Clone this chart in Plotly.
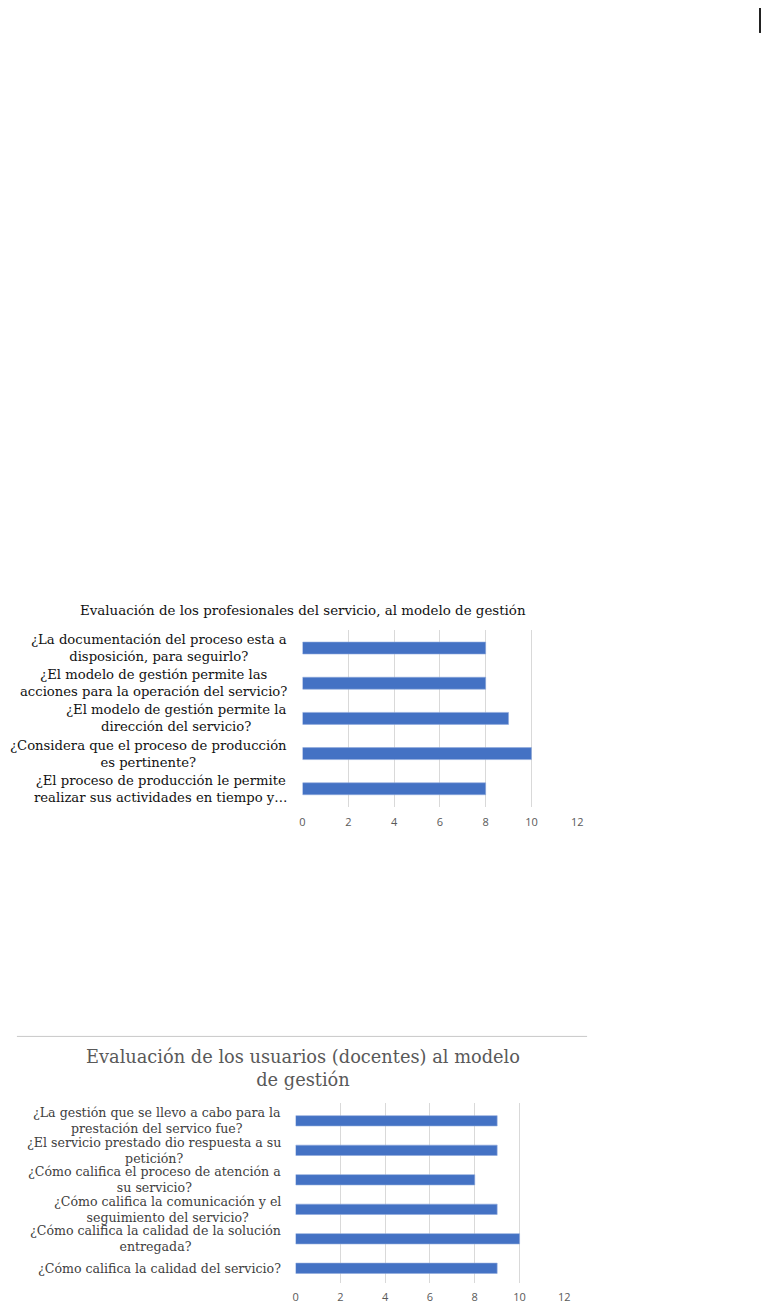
import plotly.graph_objects as go

# page body has an 8px default margin; figure is sized to fill the window exactly
OFF = 8
FW, FH = 775 - 2 * OFF, 1312 - 2 * OFF

# ---------------- data ----------------
top_title = "Evaluación de los profesionales del servicio, al modelo de gestión"
top_questions = [
    "¿La documentación del proceso esta a<br>disposición, para seguirlo?",
    "¿El modelo de gestión permite las<br>acciones para la operación del servicio?",
    "¿El modelo de gestión permite la<br>dirección del servicio?",
    "¿Considera que el proceso de producción<br>es pertinente?",
    "¿El proceso de producción le permite<br>realizar sus actividades en tiempo y…",
]
top_values = [8, 8, 9, 10, 8]

bottom_title = "Evaluación de los usuarios (docentes) al modelo<br>de gestión"
bottom_questions = [
    "¿La gestión que se llevo a cabo para la<br>prestación del servico fue?",
    "¿El servicio prestado dio respuesta a su<br>petición?",
    "¿Cómo califica el proceso de atención a<br>su servicio?",
    "¿Cómo califica la comunicación y el<br>seguimiento del servicio?",
    "¿Cómo califica la calidad de la solución<br>entregada?",
    "¿Cómo califica la calidad del servicio?",
]
bottom_values = [9, 9, 8, 9, 10, 9]

x_ticks = [0, 2, 4, 6, 8, 10, 12]

# ---------------- helpers (window pixel -> paper) ----------------
def px_x(p):
    return min(1.0, (p - OFF) / FW)

def px_y(p):
    return min(1.0, 1 - (p - OFF) / FH)

BAR_COLOR = "#4472C4"
GRID_COLOR = "#d9d9d9"
TICK_FONT = dict(family="Open Sans", size=11, color="#595959")

fig = go.Figure()

fig.add_trace(go.Bar(
    x=top_values, y=top_questions, orientation="h",
    xaxis="x", yaxis="y", width=0.34,
    marker=dict(color=BAR_COLOR, line=dict(color="#8faadc", width=0.6)),
    hoverinfo="x+y",
))
fig.add_trace(go.Bar(
    x=bottom_values, y=bottom_questions, orientation="h",
    xaxis="x2", yaxis="y2", width=0.35,
    marker=dict(color=BAR_COLOR, line=dict(color="#8faadc", width=0.6)),
    hoverinfo="x+y",
))

axis_common = dict(range=[0, 12], tickvals=x_ticks, showgrid=True, gridcolor=GRID_COLOR,
                   gridwidth=1, zeroline=False, showline=False, ticks="",
                   tickfont=TICK_FONT, fixedrange=True)

annotations = []
for q in top_questions:
    annotations.append(dict(
        text=q, x=px_x(289), xref="paper", y=q, yref="y",
        xanchor="right", yanchor="middle", align="center", showarrow=False,
        font=dict(family="DejaVu Serif", size=13.2, color="#111111"),
    ))
for q in bottom_questions:
    annotations.append(dict(
        text=q, x=px_x(283), xref="paper", y=q, yref="y2",
        xanchor="right", yanchor="middle", align="center", showarrow=False,
        font=dict(family="DejaVu Serif", size=12.6, color="#404040"),
    ))
annotations.append(dict(
    text=top_title, x=px_x(303), y=px_y(611), xref="paper", yref="paper",
    xanchor="center", yanchor="middle", showarrow=False,
    font=dict(family="DejaVu Serif", size=13.4, color="#111111"),
))
annotations.append(dict(
    text=bottom_title, x=px_x(303), y=px_y(1070), xref="paper", yref="paper",
    xanchor="center", yanchor="middle", showarrow=False,
    font=dict(family="DejaVu Serif", size=17.8, color="#595959"),
))

shapes = [
    dict(type="line", xref="paper", yref="paper",
         x0=px_x(14), x1=px_x(591), y0=px_y(1038), y1=px_y(1038),
         line=dict(color="#c8c8c8", width=1)),
    dict(type="line", xref="paper", yref="paper",
         x0=1 - 1.0 / FW, x1=1 - 1.0 / FW, y0=px_y(8), y1=px_y(33),
         line=dict(color="#222222", width=2)),
]

fig.update_layout(
    width=FW, height=FH,
    margin=dict(l=0, r=0, t=0, b=0),
    paper_bgcolor="white", plot_bgcolor="white",
    showlegend=False,
    xaxis=dict(domain=[px_x(303), px_x(581)], anchor="y", ticklabelstandoff=7, **axis_common),
    yaxis=dict(domain=[px_y(808), px_y(631)], anchor="x", autorange="reversed",
               showticklabels=False, showgrid=False, zeroline=False, fixedrange=True),
    xaxis2=dict(domain=[px_x(296), px_x(568)], anchor="y2", ticklabelstandoff=6, **axis_common),
    yaxis2=dict(domain=[px_y(1285), px_y(1105)], anchor="x2", autorange="reversed",
                showticklabels=False, showgrid=False, zeroline=False, fixedrange=True),
    annotations=annotations,
    shapes=shapes,
)

fig.write_html("out.html")
